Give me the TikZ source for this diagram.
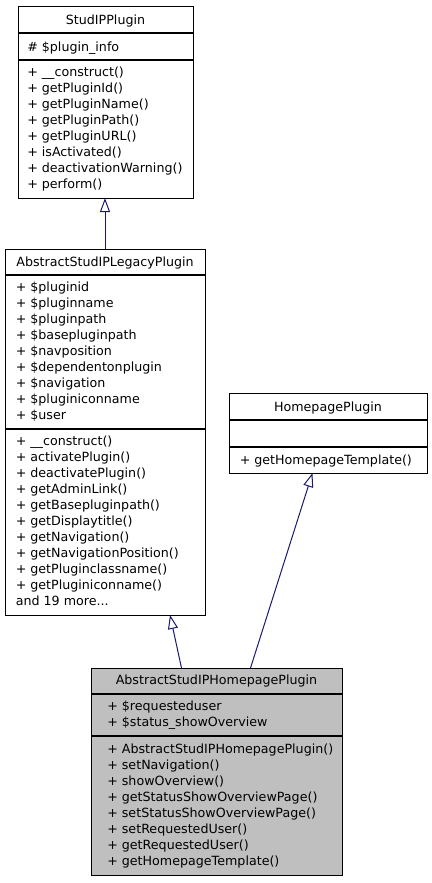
\documentclass[tikz,border=0pt]{standalone}
\usepackage{fontspec}
\setmainfont{DejaVu Sans}
\usetikzlibrary{arrows.meta}
\definecolor{edgeblue}{RGB}{25,25,112}
\definecolor{activegray}{RGB}{191,191,191}

\begin{document}
\begin{tikzpicture}[x=0.75pt,y=0.75pt,yscale=-1,xscale=1,
    classframe/.style={line width=0.75pt},
    classsep/.style={line width=1.1pt},
    classname/.style={anchor=base,inner sep=0pt,font=\fontsize{9.5}{12}\selectfont},
    members/.style={anchor=north west,inner sep=0pt,align=left,font=\fontsize{9.5}{12}\selectfont,execute at begin node=\strut},
    inherits/.style={draw=edgeblue,line width=0.75pt,-{Triangle[open,length=10.5pt,width=7.5pt]}}]
\useasboundingbox (0,0) rectangle (432,883);

%Shape: Rectangle [StudIPPlugin]
\draw [classframe] (18,6) -- (193,6) -- (193,198) -- (18,198) -- cycle ;
\draw [classsep] (18,33) -- (193,33) ;
\draw [classsep] (18,60) -- (193,60) ;
% Text Node
\draw (105.5,24.5) node [classname] (studip) {StudIPPlugin};
% Text Node
\draw (27,39.8) node [members] (studip_attr) {\# \$plugin\_info};
% Text Node
\draw (27,66.3) node [members] (studip_ops) {+ \_\_construct()\\+ getPluginId()\\+ getPluginName()\\+ getPluginPath()\\+ getPluginURL()\\+ isActivated()\\+ deactivationWarning()\\+ perform()};

%Shape: Rectangle [AbstractStudIPLegacyPlugin]
\draw [classframe] (5,249) -- (205,249) -- (205,615) -- (5,615) -- cycle ;
\draw [classsep] (5,275) -- (205,275) ;
\draw [classsep] (5,429) -- (205,429) ;
% Text Node
\draw (105,266.5) node [classname] (legacy) {AbstractStudIPLegacyPlugin};
% Text Node
\draw (15.5,281.3) node [members] (legacy_attr) {+ \$pluginid\\+ \$pluginname\\+ \$pluginpath\\+ \$basepluginpath\\+ \$navposition\\+ \$dependentonplugin\\+ \$navigation\\+ \$pluginiconname\\+ \$user};
% Text Node
\draw (15.5,435.3) node [members] (legacy_ops) {+ \_\_construct()\\+ activatePlugin()\\+ deactivatePlugin()\\+ getAdminLink()\\+ getBasepluginpath()\\+ getDisplaytitle()\\+ getNavigation()\\+ getNavigationPosition()\\+ getPluginclassname()\\+ getPluginiconname()\\and 19 more...};

%Shape: Rectangle [HomepagePlugin]
\draw [classframe] (229,393) -- (427,393) -- (427,473) -- (229,473) -- cycle ;
\draw [classsep] (229,420) -- (427,420) ;
\draw [classsep] (229,447) -- (427,447) ;
% Text Node
\draw (328,411) node [classname] (homepage) {HomepagePlugin};
% Text Node
\draw (239.5,453.3) node [members] (homepage_ops) {+ getHomepageTemplate()};

%Shape: Rectangle [AbstractStudIPHomepagePlugin]
\draw [classframe,fill=activegray] (91,668) -- (342,668) -- (342,875) -- (91,875) -- cycle ;
\draw [classsep] (91,694) -- (342,694) ;
\draw [classsep] (91,736) -- (342,736) ;
% Text Node
\draw (216.5,684.5) node [classname] (hpplugin) {AbstractStudIPHomepagePlugin};
% Text Node
\draw (107,700.3) node [members] (hpplugin_attr) {+ \$requesteduser\\+ \$status\_showOverview};
% Text Node
\draw (107,743.3) node [members] (hpplugin_ops) {+ AbstractStudIPHomepagePlugin()\\+ setNavigation()\\+ showOverview()\\+ getStatusShowOverviewPage()\\+ setStatusShowOverviewPage()\\+ setRequestedUser()\\+ getRequestedUser()\\+ getHomepageTemplate()};

% Inheritance edges
\coordinate (studip_s) at (105,198) ;
\coordinate (legacy_n) at (105,249) ;
\coordinate (legacy_s) at (170,615) ;
\coordinate (homepage_s) at (312.5,473) ;
\coordinate (hpplugin_nw) at (181.5,668) ;
\coordinate (hpplugin_ne) at (250.5,668) ;
\draw [inherits] (legacy_n) -- (studip_s) ;
\draw [inherits] (hpplugin_nw) -- (legacy_s) ;
\draw [inherits] (hpplugin_ne) -- (homepage_s) ;
\end{tikzpicture}
\end{document}
